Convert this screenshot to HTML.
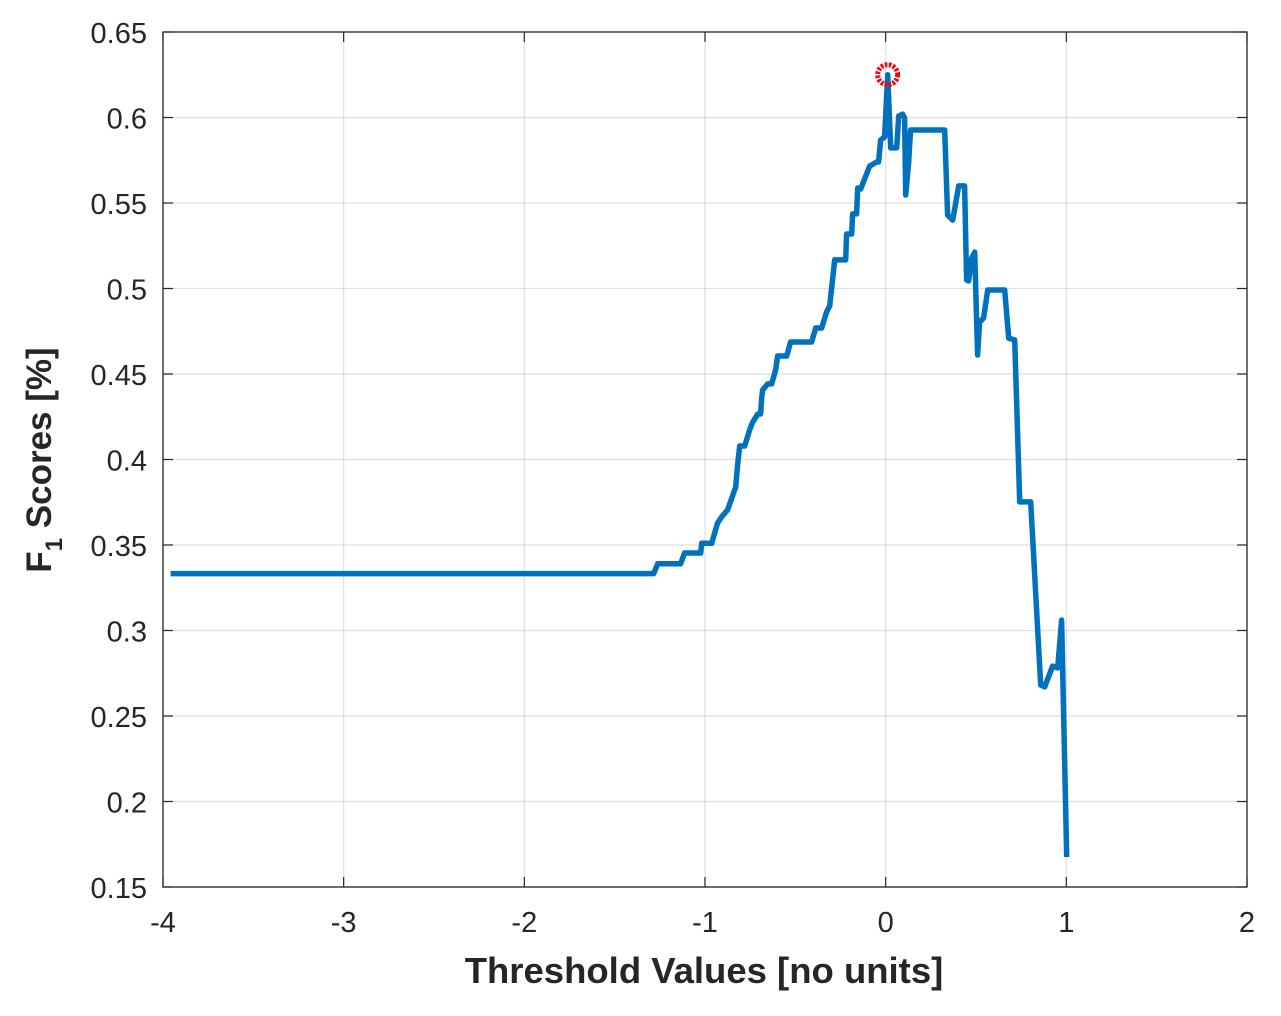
<!DOCTYPE html>
<html><head><meta charset="utf-8"><style>
body{margin:0;background:#fff}
svg text{font-family:"Liberation Sans",Arial,sans-serif;fill:#262626}
</style></head><body>
<svg id="chart" width="1281" height="1011" xmlns="http://www.w3.org/2000/svg">
<rect x="0" y="0" width="1281" height="1011" fill="#fff"/>
<g id="grid"></g>
<g id="ticks"></g>
<path id="series" fill="none" stroke="#0072BD" stroke-width="5.5" stroke-linejoin="round"/>
<g id="marker"></g>
<rect x="163" y="32" width="1084" height="855" fill="none" stroke="#262626" stroke-width="1.3"/>
<text x="704" y="983" font-size="36.5" font-weight="bold" text-anchor="middle">Threshold Values [no units]</text>
<text transform="translate(51,460) rotate(-90)" font-size="35" font-weight="bold" text-anchor="middle">F<tspan font-size="24" dy="11">1</tspan><tspan dy="-11"> Scores [%]</tspan></text>
</svg>
<script>
const xTicks=[-4,-3,-2,-1,0,1,2];
const yTicks=[0.15,0.2,0.25,0.3,0.35,0.4,0.45,0.5,0.55,0.6,0.65];
const xTickLabels=["-4","-3","-2","-1","0","1","2"];
const yTickLabels=["0.15","0.2","0.25","0.3","0.35","0.4","0.45","0.5","0.55","0.6","0.65"];
const xs=[-3.958,-1.284,-1.262,-1.135,-1.113,-1.024,-1.018,-0.963,-0.930,-0.908,-0.875,-0.830,-0.819,-0.808,-0.780,-0.753,-0.736,-0.708,-0.692,-0.686,-0.681,-0.653,-0.631,-0.609,-0.598,-0.548,-0.526,-0.410,-0.387,-0.354,-0.327,-0.310,-0.282,-0.221,-0.216,-0.188,-0.183,-0.161,-0.155,-0.138,-0.089,-0.050,-0.039,-0.028,-0.006,0.011,0.028,0.061,0.072,0.094,0.105,0.111,0.127,0.138,0.327,0.343,0.371,0.404,0.437,0.448,0.459,0.476,0.493,0.509,0.520,0.542,0.565,0.659,0.681,0.714,0.742,0.803,0.858,0.880,0.924,0.952,0.974,1.002];
const ys=[0.3333,0.3333,0.339,0.339,0.3453,0.3453,0.351,0.351,0.3629,0.3664,0.3705,0.3839,0.3974,0.4079,0.4079,0.4173,0.4219,0.4266,0.4266,0.4360,0.4406,0.4442,0.4442,0.4523,0.4605,0.4605,0.4687,0.4687,0.4769,0.4769,0.4863,0.4898,0.5167,0.5167,0.5319,0.5319,0.5436,0.5436,0.5588,0.5582,0.5716,0.574,0.574,0.5868,0.5886,0.625,0.5822,0.5822,0.6009,0.602,0.5997,0.5547,0.5734,0.5927,0.5927,0.543,0.540,0.560,0.560,0.505,0.5044,0.5178,0.5213,0.4611,0.4804,0.4827,0.4991,0.4991,0.471,0.4699,0.3752,0.3752,0.2681,0.267,0.2792,0.2781,0.3061,0.1675];
const maxPoint=[0.011,0.625];
const L=163,R=1247,T=32,B=887;
const sx=v=>L+(v+4)/6*(R-L);
const sy=v=>B-(v-0.15)/0.5*(B-T);
const NS="http://www.w3.org/2000/svg";
const grid=document.getElementById('grid'),ticks=document.getElementById('ticks');
function mk(tag,attrs,parent){const e=document.createElementNS(NS,tag);for(const k in attrs)e.setAttribute(k,attrs[k]);parent.appendChild(e);return e;}
xTicks.forEach((v,i)=>{const x=sx(v);
 const g=mk('line',{x1:x,x2:x,y1:T,y2:B,stroke:'#262626','stroke-opacity':0.15,'stroke-width':1.2},grid);
 
 
 mk('line',{x1:x,x2:x,y1:B,y2:B-10,stroke:'#262626','stroke-width':1.2},ticks);
 mk('line',{x1:x,x2:x,y1:T,y2:T+10,stroke:'#262626','stroke-width':1.2},ticks);
 const t=mk('text',{x:x,y:B+45,'font-size':29,'text-anchor':'middle'},ticks);t.textContent=xTickLabels[i];
 
 
});
yTicks.forEach((v,i)=>{const y=sy(v);
 const g=mk('line',{x1:L,x2:R,y1:y,y2:y,stroke:'#262626','stroke-opacity':0.15,'stroke-width':1.2},grid);
 
 
 mk('line',{x1:L,x2:L+10,y1:y,y2:y,stroke:'#262626','stroke-width':1.2},ticks);
 mk('line',{x1:R,x2:R-10,y1:y,y2:y,stroke:'#262626','stroke-width':1.2},ticks);
 const t=mk('text',{x:L-16,y:y+11,'font-size':29,'text-anchor':'end'},ticks);t.textContent=yTickLabels[i];
 
 
});
document.getElementById('series').setAttribute('d',xs.map((v,i)=>(i?'L':'M')+sx(v).toFixed(1)+' '+sy(ys[i]).toFixed(1)).join(''));
const c=mk('circle',{cx:sx(maxPoint[0]),cy:sy(maxPoint[1]),r:10,fill:'none',stroke:'#FF0000','stroke-width':5,'stroke-dasharray':'2.5 1.5'},document.getElementById('marker'));


</script>
</body></html>
